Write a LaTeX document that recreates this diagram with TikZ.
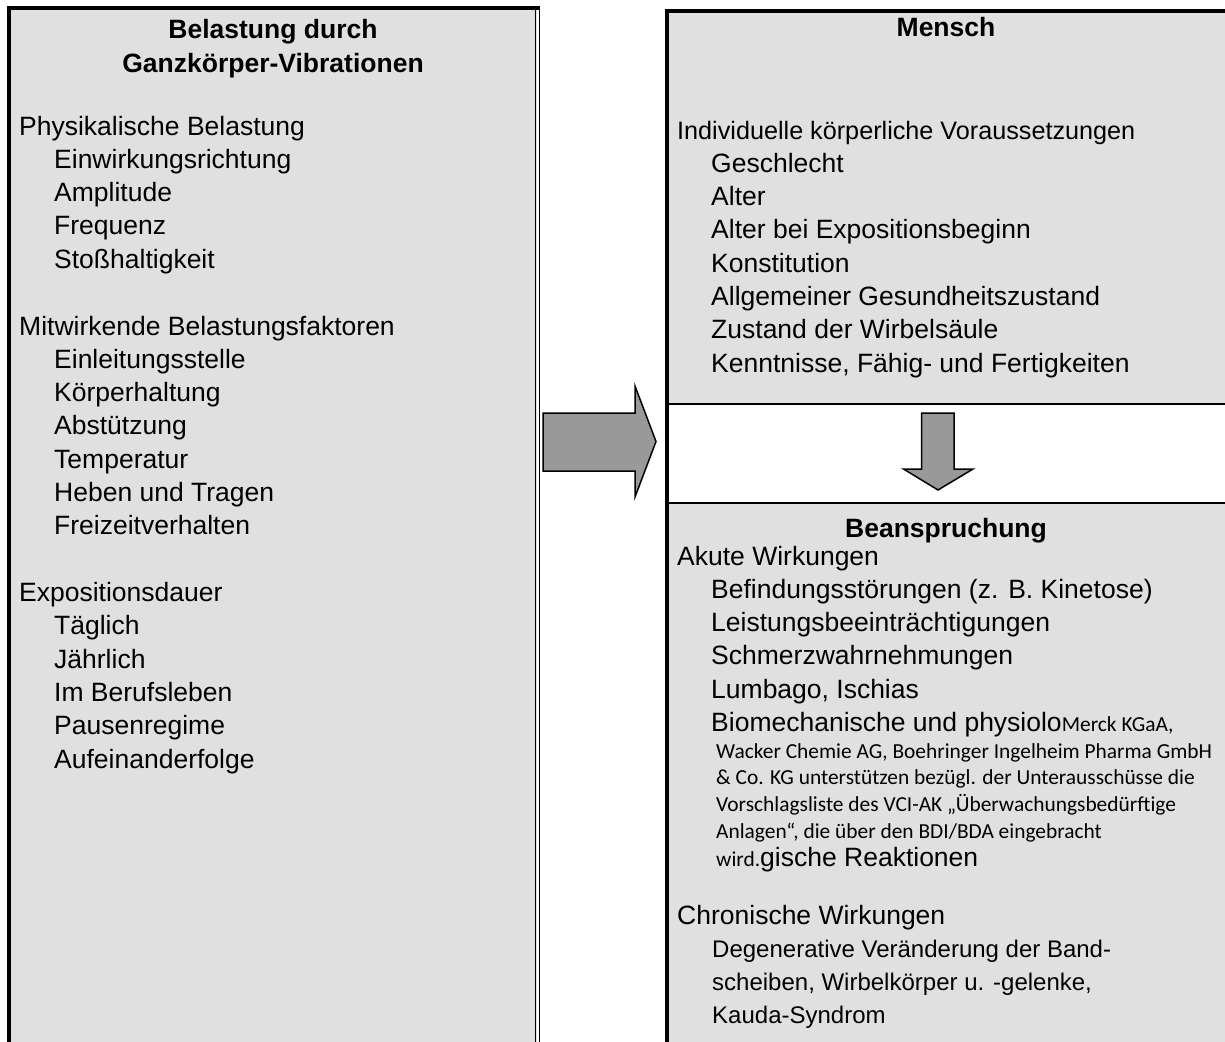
\documentclass[tikz,border=0pt]{standalone}
\usepackage{fontspec}
\setmainfont{Liberation Sans}
\newfontfamily\calibri{Carlito}
\definecolor{boxgray}{RGB}{224,224,224}
\definecolor{arrowgray}{RGB}{153,153,153}
\begin{document}
\begin{tikzpicture}[
    x=1pt, y=-1pt,
    every node/.style={inner sep=0pt,font=\fontsize{26.5}{33.3}\selectfont},
    item/.style={anchor=base west},
    head/.style={anchor=base,font=\fontsize{26.5}{33.3}\selectfont\bfseries},
    small/.style={anchor=base west,font=\fontsize{21.4}{27}\selectfont\calibri},
    narrow/.style={anchor=base west,font=\fontsize{24}{33}\selectfont},
    blockarrow/.style={fill=arrowgray,draw=black,line width=1.5pt,line join=miter}]
    \useasboundingbox (0,0) rectangle (1225,1041);
    \fill[boxgray] (9,8) rectangle (537,1050);
    \draw[line width=4pt] (9,1050) -- (9,8) -- (539,8);
    \draw[line width=1.3pt] (535.5,6) -- (535.5,1050) (539.2,6) -- (539.2,1050);
    \fill[boxgray] (667,11) rectangle (1230,404);
    \fill[boxgray] (667,503) rectangle (1230,1050);
    \draw[line width=4pt] (667,1050) -- (667,11) -- (1230,11);
    \draw[line width=1.5pt] (667,404) -- (1230,404) (667,503) -- (1230,503);
    \draw[blockarrow] (543,413) -- (635,413) -- (635,386) -- (656,441.5)
        -- (635,497) -- (635,471) -- (543,471) -- cycle;
    \draw[blockarrow] (921.5,413) -- (954,413) -- (954,469) -- (973,469)
        -- (938,490) -- (903.5,469) -- (921.5,469) -- cycle;
    \node[head] (belastung) at (273,39) {Belastung durch};
    \node[head] (ganzkoerper) at (273,72) {Ganzkörper-Vibrationen};
    \node[item] (phys) at (19,135) {Physikalische Belastung};
    \foreach \txt [count=\i] in {Einwirkungsrichtung, Amplitude, Frequenz, Stoßhaltigkeit}
        \node[item] (phys-\i) at (54,{135+33.3*\i}) {\txt};
    \node[item] (mitw) at (19,335) {Mitwirkende Belastungsfaktoren};
    \foreach \txt [count=\i] in {Einleitungsstelle, Körperhaltung, Abstützung,
        Temperatur, Heben und Tragen, Freizeitverhalten}
        \node[item] (mitw-\i) at (54,{335+33.3*\i}) {\txt};
    \node[item] (expo) at (19,601.5) {Expositionsdauer};
    \foreach \txt [count=\i] in {Täglich, Jährlich, Im Berufsleben, Pausenregime,
        Aufeinanderfolge}
        \node[item] (expo-\i) at (54,{601.5+33.3*\i}) {\txt};
    \node[head] (mensch) at (946,37) {Mensch};
    \node[item,font=\fontsize{25.2}{33.3}\selectfont] (indiv) at (677,139)
        {Individuelle körperliche Voraussetzungen};
    \foreach \txt [count=\i] in {Geschlecht, Alter, Alter bei Expositionsbeginn,
        Konstitution, Allgemeiner Gesundheitszustand, Zustand der Wirbelsäule,
        {Kenntnisse, Fähig- und Fertigkeiten}}
        \node[item] (indiv-\i) at (711,{139+33.3*\i}) {\txt};
    \node[head] (beansp) at (946,537) {Beanspruchung};
    \node[item] (akut) at (677,565) {Akute Wirkungen};
    \foreach \txt [count=\i] in {Befindungsstörungen (z. B. Kinetose),
        Leistungsbeeinträchtigungen, Schmerzwahrnehmungen, {Lumbago, Ischias}}
        \node[item] (akut-\i) at (711,{565+33.3*\i}) {\txt};
    \node[item] (akut-5) at (711,731.5) {Biomechanische und
        physiolo{\fontsize{21.4}{27}\selectfont\calibri Merck KGaA,}};
    \foreach \txt [count=\i] in {{Wacker Chemie AG, Boehringer Ingelheim Pharma GmbH},
        {\& Co. KG unterstützen bezügl. der Unterausschüsse die},
        {Vorschlagsliste des VCI-AK „Überwachungsbedürftige},
        {Anlagen“, die über den BDI/BDA eingebracht}}
        \node[small] (merck-\i) at (716,{731.5+26.7*\i}) {\txt};
    \node[item] (akut-6) at (716,866) {{\fontsize{21.4}{27}\selectfont\calibri
        wird.}gische Reaktionen};
    \node[item] (chron) at (677,924) {Chronische Wirkungen};
    \foreach \txt [count=\i] in {Degenerative Veränderung der Band-,
        {scheiben, Wirbelkörper u. -gelenke,}, Kauda-Syndrom}
        \node[narrow] (chron-\i) at (712,{924+33*\i}) {\txt};
\end{tikzpicture}
\end{document}
